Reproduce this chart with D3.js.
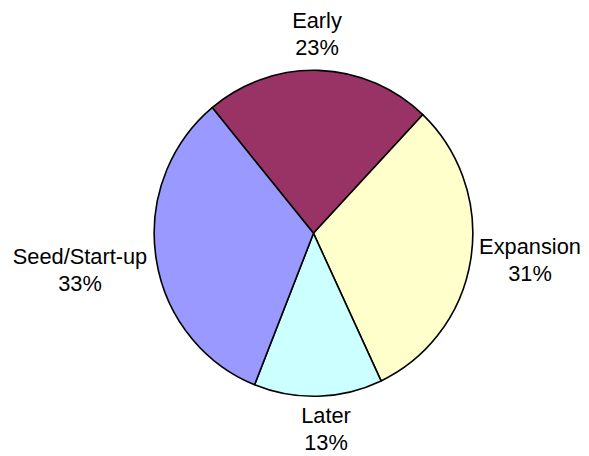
<!DOCTYPE html>
<html>
<head>
<meta charset="utf-8">
<script src="https://cdn.jsdelivr.net/npm/d3@7/dist/d3.min.js"></script>
<style>
  html, body { margin: 0; padding: 0; background: #fff; }
  svg { display: block; }
  text { font-family: Arial, "Liberation Sans", sans-serif; fill: #000; }
</style>
</head>
<body>
<svg id="chart" width="589" height="456"></svg>
<script>
// Venture investment share by stage
const stages = ["Early", "Expansion", "Later", "Seed/Start-up"];
const shares = [23, 31, 13, 33];
const sliceColors = ["#993366", "#FFFFCC", "#CCFFFF", "#9999FF"];

const width = 589, height = 456;
const cx = 313.5, cy = 233.3;
const rx = 159.3, ry = 163;
const startDeg = -39.5;

const svg = d3.select("#chart");

const pie = d3.pie()
  .sort(null)
  .value(d => d.value)
  .startAngle(startDeg * Math.PI / 180)
  .endAngle((startDeg + 360) * Math.PI / 180);

const data = stages.map((s, i) => ({ stage: s, value: shares[i], color: sliceColors[i] }));
const arcs = pie(data);

const arc = d3.arc().innerRadius(0).outerRadius(rx);

const g = svg.append("g")
  .attr("transform", `translate(${cx},${cy}) scale(1,${ry / rx})`);

g.selectAll("path")
  .data(arcs)
  .join("path")
  .attr("d", arc)
  .attr("fill", d => d.data.color)
  .attr("stroke", "#000")
  .attr("stroke-width", 1.6)
  .attr("stroke-linejoin", "round")
  .attr("vector-effect", "non-scaling-stroke");

// Category + percentage labels outside each slice
const labelPos = {
  "Early": [317, 28],
  "Expansion": [530, 254],
  "Later": [326, 423],
  "Seed/Start-up": [80, 264]
};
const lineGap = 27;

const labels = svg.append("g").attr("font-size", 21.8);
arcs.forEach(a => {
  const [x, y] = labelPos[a.data.stage];
  const t = labels.append("text").attr("text-anchor", "middle");
  t.append("tspan").attr("x", x).attr("y", y).text(a.data.stage);
  t.append("tspan").attr("x", x).attr("y", y + lineGap).text(d3.format(".0f")(a.data.value) + "%");
});
</script>
</body>
</html>
